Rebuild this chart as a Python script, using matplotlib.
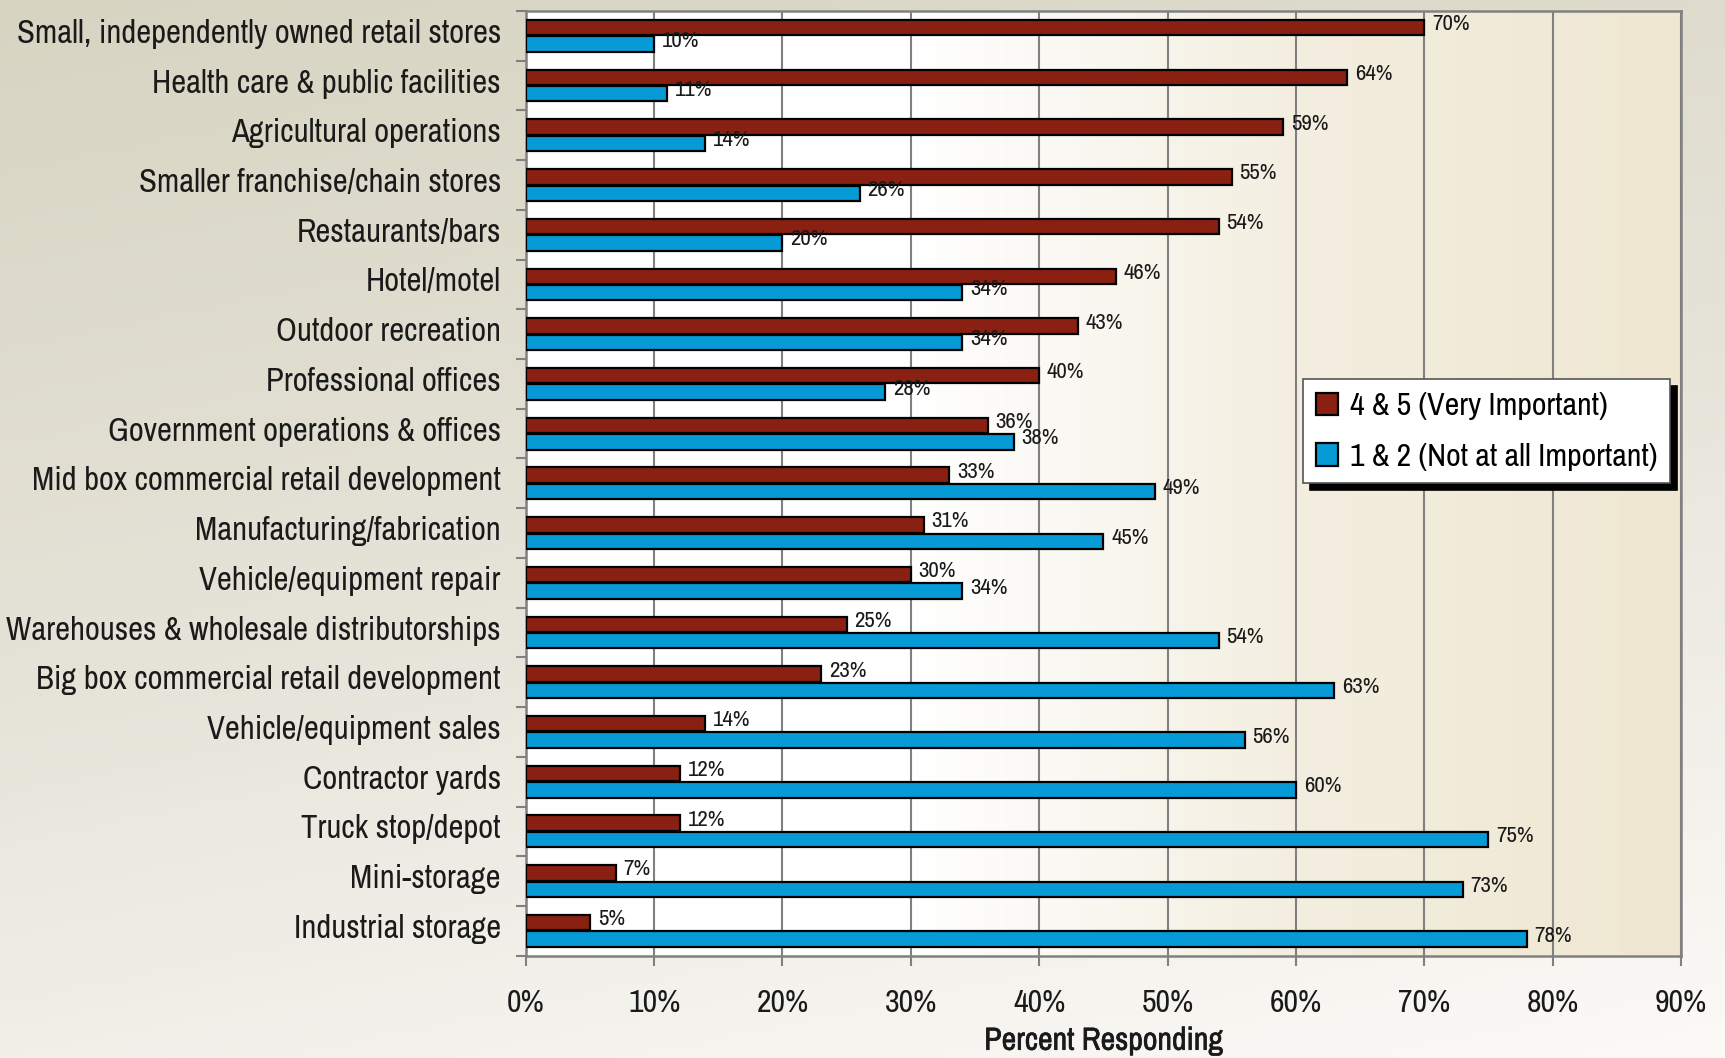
# Importance of land use types - grouped horizontal bar chart

import numpy as np
import matplotlib.pyplot as plt
import matplotlib.patheffects as pe
from matplotlib.colors import LinearSegmentedColormap
from matplotlib.ticker import FixedLocator, PercentFormatter

categories = [
    "Small, independently owned retail stores",
    "Health care & public facilities",
    "Agricultural operations",
    "Smaller franchise/chain stores",
    "Restaurants/bars",
    "Hotel/motel",
    "Outdoor recreation",
    "Professional offices",
    "Government operations & offices",
    "Mid box commercial retail development",
    "Manufacturing/fabrication",
    "Vehicle/equipment repair",
    "Warehouses & wholesale distributorships",
    "Big box commercial retail development",
    "Vehicle/equipment sales",
    "Contractor yards",
    "Truck stop/depot",
    "Mini-storage",
    "Industrial storage",
]
very_important = [70, 64, 59, 55, 54, 46, 43, 40, 36, 33, 31, 30, 25, 23, 14, 12, 12, 7, 5]
not_important = [10, 11, 14, 26, 20, 34, 34, 28, 38, 49, 45, 34, 54, 63, 56, 60, 75, 73, 78]
series_names = ["4 & 5 (Very Important)", "1 & 2 (Not at all Important)"]

plt.rcParams['font.family'] = ['Archivo Narrow', 'Liberation Sans', 'DejaVu Sans']
RED = "#8a2012"
BLUE = "#069bd6"
TXT = "#1a1a1a"

fig = plt.figure(figsize=(17.25, 10.58), dpi=100)

# figure background gradient
bg = fig.add_axes([0, 0, 1, 1], zorder=-10)
bg_cmap = LinearSegmentedColormap.from_list("bg", ["#d7d4c2", "#e6e4d9", "#fbfaf7"])
yy, xx = np.mgrid[0:1:200j, 0:1:200j]
bg.imshow(np.clip(0.75 * yy + 0.25 * xx, 0, 1), cmap=bg_cmap, aspect="auto",
          extent=[0, 1, 1, 0])
bg.axis("off")

ax = fig.add_axes([0.3048, 0.0967, 0.6697, 0.8929])
ax.set_facecolor("none")

# plot area gradient
pa_cmap = LinearSegmentedColormap.from_list("pa", ["#ffffff", "#ffffff", "#f3eee0", "#efe7d1"])
ax.imshow(np.linspace(0, 1, 300)[None, :], cmap=pa_cmap, aspect="auto",
          extent=[0, 90, len(categories) - 0.5, -0.5], zorder=0)

y = np.arange(len(categories))
h = 0.31
off = 0.165
ax.barh(y - off, very_important, height=h, color=RED, edgecolor="black",
        linewidth=1.6, zorder=3, label=series_names[0])
ax.barh(y + off, not_important, height=h, color=BLUE, edgecolor="black",
        linewidth=1.6, zorder=3, label=series_names[1])

for yi, v in zip(y, very_important):
    ax.text(v + 0.6, yi - off - 0.07, f"{v}%", va="center", ha="left",
            fontsize=16.5, color=TXT, zorder=4)
for yi, v in zip(y, not_important):
    ax.text(v + 0.6, yi + off - 0.07, f"{v}%", va="center", ha="left",
            fontsize=16.5, color=TXT, zorder=4)

ax.set_xlim(0, 90)
ax.set_ylim(len(categories) - 0.5, -0.5)
ax.set_xticks(np.arange(0, 91, 10))
ax.xaxis.set_major_formatter(PercentFormatter(decimals=0))
ax.grid(axis="x", color="#808080", linewidth=1.5, zorder=1)
ax.set_axisbelow(True)

# labels sit a little above the group centre, as in the original
ax.set_yticks(y - 0.1)
ax.set_yticklabels(categories)
ax.yaxis.set_minor_locator(FixedLocator(np.arange(-0.5, len(categories), 1)))
ax.tick_params(axis="y", which="major", length=0, pad=18, labelsize=23.5, labelcolor=TXT)
ax.tick_params(axis="y", which="minor", length=7, width=1.5, color="#808080")
ax.tick_params(axis="x", length=7, width=1.5, color="#808080", pad=17,
               labelsize=23, labelcolor=TXT)

for s in ax.spines.values():
    s.set_color("#808080")
    s.set_linewidth(1.8)

xl = ax.set_xlabel("Percent Responding", fontsize=23, color=TXT, labelpad=7)
xl.set_path_effects([pe.withStroke(linewidth=0.45, foreground=TXT)])

leg = ax.legend(loc="upper left", bbox_to_anchor=(0.673, 0.61), fontsize=23,
                frameon=True, fancybox=False, edgecolor="#555555",
                handlelength=0.7, handleheight=0.7, handletextpad=0.35,
                labelspacing=0.7, borderpad=0.4, borderaxespad=0,
                shadow={"color": "black", "alpha": 1.0, "ox": 5, "oy": -5})
leg.get_frame().set_facecolor("white")
leg.get_frame().set_alpha(1)
leg.get_frame().set_linewidth(1.2)

fig.savefig("out.png", dpi=100)
